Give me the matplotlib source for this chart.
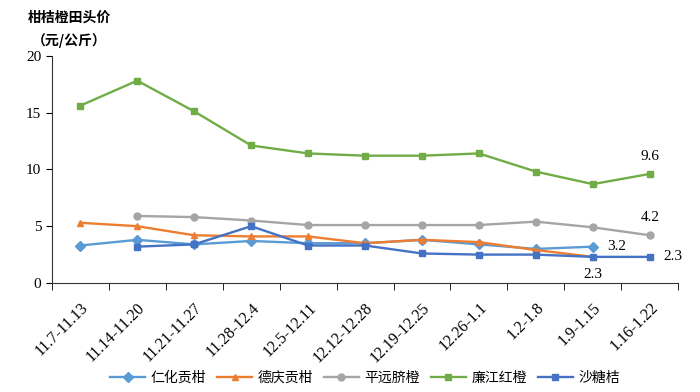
import matplotlib.pyplot as plt
import numpy as np

plt.rcParams['font.family'] = ['Liberation Serif', 'Noto Sans CJK SC']

weeks = ['11.7-11.13', '11.14-11.20', '11.21-11.27', '11.28-12.4', '12.5-12.11',
         '12.12-12.28', '12.19-12.25', '12.26-1.1', '1.2-1.8', '1.9-1.15', '1.16-1.22']
renhua = [3.3, 3.8, 3.4, 3.7, 3.5, 3.5, 3.8, 3.4, 3.0, 3.2, None]
deqing = [5.3, 5.0, 4.2, 4.1, 4.1, 3.5, 3.8, 3.6, 2.9, 2.3, None]
pingyuan = [None, 5.9, 5.8, 5.5, 5.1, 5.1, 5.1, 5.1, 5.4, 4.9, 4.2]
lianjiang = [15.6, 17.8, 15.1, 12.1, 11.4, 11.2, 11.2, 11.4, 9.8, 8.7, 9.6]
shatangju = [None, 3.2, 3.4, 5.0, 3.3, 3.3, 2.6, 2.5, 2.5, 2.3, 2.3]

names = ['仁化贡柑', '德庆贡柑', '平远脐橙', '廉江红橙', '沙糖桔']
colors = ['#5B9BD5', '#ED7D31', '#A5A5A5', '#70AD47', '#4472C4']
markers = ['D', '^', 'o', 's', 's']
series = [renhua, deqing, pingyuan, lianjiang, shatangju]

fig = plt.figure(figsize=(7, 3.92), dpi=100)
ax = fig.add_axes([0.074, 0.278, 0.895, 0.58])

x = np.arange(len(weeks))
for vals, name, c, m in zip(series, names, colors, markers):
    y = np.array([np.nan if v is None else v for v in vals])
    ax.plot(x, y, color=c, marker=m, markersize=5, linewidth=1.7, label=name)

# data labels
ax.annotate('9.6', (x[10], lianjiang[10]), xytext=(0, 8), textcoords='offset points',
            ha='center', va='bottom', fontsize=11)
ax.annotate('4.2', (x[10], pingyuan[10]), xytext=(0, 8), textcoords='offset points',
            ha='center', va='bottom', fontsize=11)
ax.annotate('3.2', (x[9], renhua[9]), xytext=(10, 0), textcoords='offset points',
            ha='left', va='center', fontsize=11)
ax.annotate('2.3', (x[9], deqing[9]), xytext=(0, -8), textcoords='offset points',
            ha='center', va='top', fontsize=11)
ax.annotate('2.3', (x[10], shatangju[10]), xytext=(10, 0), textcoords='offset points',
            ha='left', va='center', fontsize=11)

ax.set_xlim(-0.5, len(weeks) - 0.5)
ax.set_ylim(0, 20)
ax.set_yticks([0, 5, 10, 15, 20])
ax.set_xticks(x)
ax.set_xticklabels(weeks, rotation=45, ha='right', rotation_mode='anchor', fontsize=11.5)
ax.set_xticks(np.arange(-0.5, len(weeks)), minor=True)
ax.tick_params(axis='x', which='major', length=0, pad=12)
ax.tick_params(axis='x', which='minor', length=5, direction='out')
ax.tick_params(axis='y', length=4, labelsize=11)
ax.spines['top'].set_visible(False)
ax.spines['right'].set_visible(False)
ax.spines['left'].set_color('#333333')
ax.spines['bottom'].set_color('#333333')

fig.text(0.04, 0.945, '柑桔橙田头价', fontsize=10, fontweight='bold', family='Noto Sans CJK SC')
fig.text(0.045, 0.885, '（元/公斤）', fontsize=10, fontweight='bold', family='Noto Sans CJK SC')

leg = ax.legend(loc='upper center', bbox_to_anchor=(0.5, -0.33), ncol=5, frameon=False,
                prop={'family': 'Noto Sans CJK SC', 'size': 10}, handlelength=2.5,
                columnspacing=0.8, handletextpad=0.4)

fig.savefig('out.png', dpi=100)
